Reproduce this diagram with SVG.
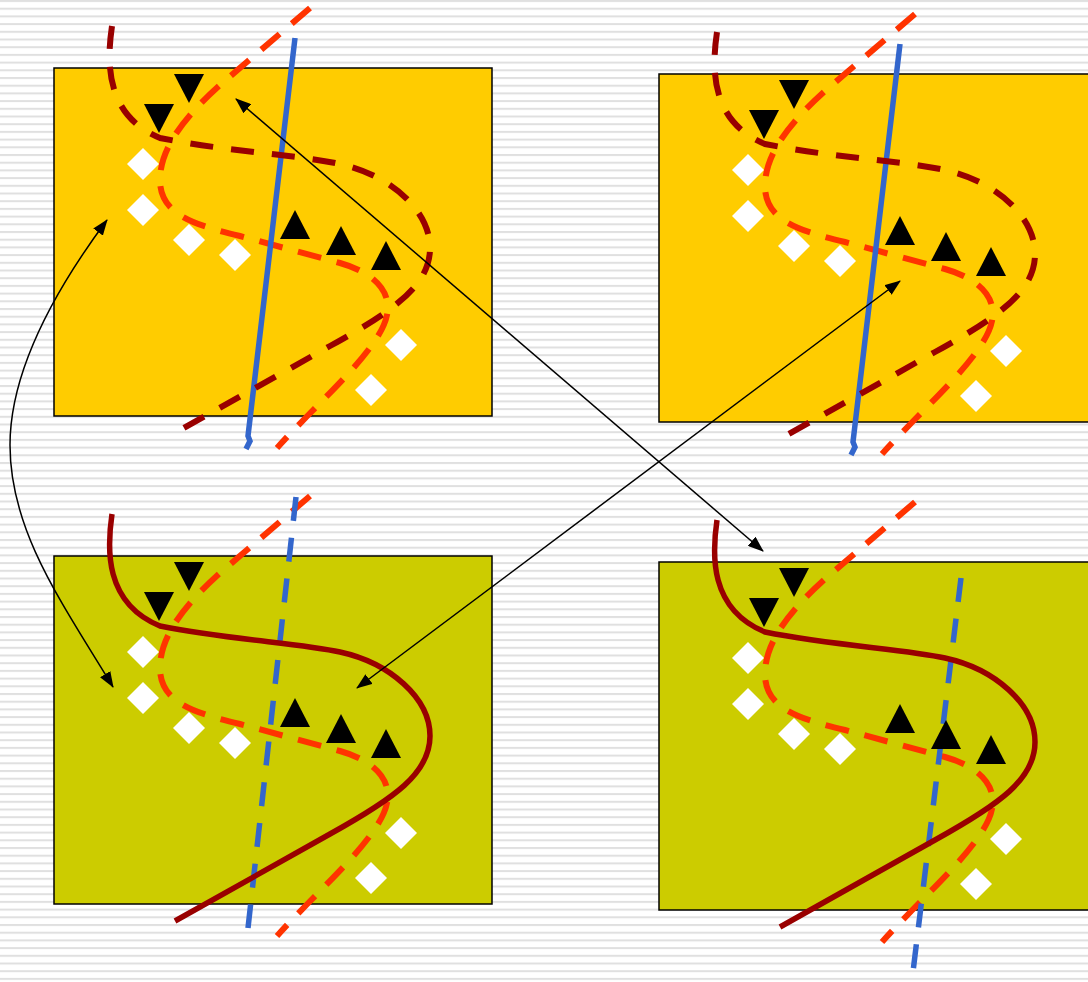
<svg xmlns="http://www.w3.org/2000/svg" xmlns:xlink="http://www.w3.org/1999/xlink" width="1088" height="982" viewBox="0 0 1088 982">
<style>
.yellow{fill:#FFCC00;stroke:#000;stroke-width:1.5}
.olive{fill:#CCCC00;stroke:#000;stroke-width:1.5}
.red{fill:none;stroke:#990000;stroke-width:6}
.redsolid{fill:none;stroke:#990000;stroke-width:5.5}
.dashR{stroke-dasharray:23 18}
.orange{fill:none;stroke:#FF3300;stroke-width:6;stroke-dasharray:24 16}
.blue{fill:none;stroke:#3366CC;stroke-width:5.5}
.blueDash{stroke-dasharray:24 17}
.tri{fill:#000}
.dia{fill:#fff}
.conn{fill:none;stroke:#000;stroke-width:1.5;marker-start:url(#arr);marker-end:url(#arr)}
</style>
<defs>
<pattern id="stripes" patternUnits="userSpaceOnUse" width="16" height="7.7">
<rect width="16" height="7.7" fill="#fff"/>
<rect y="0" width="16" height="2" fill="#e0e0e0"/>
</pattern>
<marker id="arr" markerUnits="userSpaceOnUse" viewBox="0 0 16 12" markerWidth="16" markerHeight="12" refX="15" refY="6" orient="auto-start-reverse">
<path d="M0,0 L16,6 L0,12 z" fill="#000"/>
</marker>
<g id="marks">
<path class="tri" d="M174,74 L204,74 L189,103 z"/>
<path class="tri" d="M144,104 L174,104 L159,133 z"/>
<path class="tri" d="M295,210 L310,239 L280,239 z"/>
<path class="tri" d="M341,226 L356,255 L326,255 z"/>
<path class="tri" d="M386,241 L401,270 L371,270 z"/>
<path class="dia" d="M143,148 L159,164 L143,180 L127,164 z"/>
<path class="dia" d="M143,194 L159,210 L143,226 L127,210 z"/>
<path class="dia" d="M189,224 L205,240 L189,256 L173,240 z"/>
<path class="dia" d="M235,239 L251,255 L235,271 L219,255 z"/>
<path class="dia" d="M401,329 L417,345 L401,361 L385,345 z"/>
<path class="dia" d="M371,374 L387,390 L371,406 L355,390 z"/>
</g>
<path id="redCurve" d="M112,26 C107,60 104,115 160,138 C230,152 300,155 340,164 C390,175 430,210 430,248 C430,285 395,310 330,346 L175,433"/>
<path id="orangeCurve" d="M310,8 L220,85 C190,112 160,145 160,180 C160,215 195,225 240,236 L340,263 C372,272 392,290 387,315 C380,350 320,400 277,448"/>
</defs>
<rect width="1088" height="982" fill="url(#stripes)"/>

<g id="panel-top-left">
<rect class="yellow" x="54" y="68" width="438" height="348"/>
<use xlink:href="#orangeCurve" class="orange"/>
<path class="blue" d="M295,38 L248,436 L250,441 L246,449"/>
<use xlink:href="#redCurve" class="red dashR"/>
<use xlink:href="#marks"/>
</g>

<g id="panel-top-right" transform="translate(605,6)">
<rect class="yellow" x="54" y="68" width="438" height="348"/>
<use xlink:href="#orangeCurve" class="orange"/>
<path class="blue" d="M295,38 L248,436 L250,441 L246,449"/>
<use xlink:href="#redCurve" class="red dashR"/>
<use xlink:href="#marks"/>
</g>

<g id="panel-bottom-left" transform="translate(0,488)">
<rect class="olive" x="54" y="68" width="438" height="348"/>
<use xlink:href="#orangeCurve" class="orange"/>
<path class="blue blueDash" d="M296,9 L248,440"/>
<use xlink:href="#redCurve" class="redsolid"/>
<use xlink:href="#marks"/>
</g>

<g id="panel-bottom-right" transform="translate(605,494)">
<rect class="olive" x="54" y="68" width="438" height="348"/>
<use xlink:href="#orangeCurve" class="orange"/>
<path class="blue blueDash" d="M356,84 L307,486"/>
<use xlink:href="#redCurve" class="redsolid"/>
<use xlink:href="#marks"/>
</g>

<g id="connectors">
<path class="conn" d="M236,99 L763,551"/>
<path class="conn" d="M900,281 L357,688"/>
<path class="conn" d="M107,220 C55,290 10,370 10,445 C10,530 60,600 113,687"/>
</g>
</svg>
